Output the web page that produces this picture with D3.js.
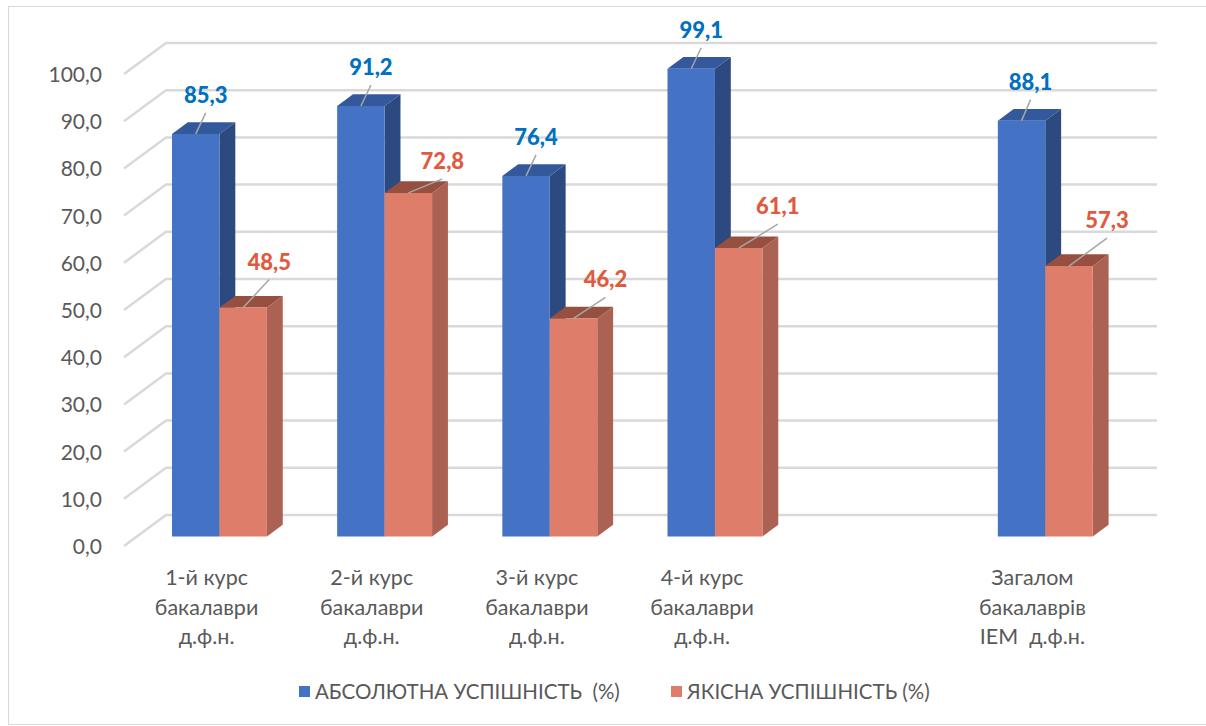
<!DOCTYPE html>
<html>
<head>
<meta charset="utf-8">
<script src="https://cdn.jsdelivr.net/npm/d3@7/dist/d3.min.js"></script>
<style>
  html, body { margin: 0; padding: 0; background: #ffffff; }
  svg { display: block; }
  text { font-family: Lato, "Open Sans", sans-serif; white-space: pre; }
</style>
</head>
<body>
<svg id="chart" width="1206" height="726"></svg>
<script>
// ---------- data ----------
const categories = [
  ["1-й курс", "бакалаври", "д.ф.н."],
  ["2-й курс", "бакалаври", "д.ф.н."],
  ["3-й курс", "бакалаври", "д.ф.н."],
  ["4-й курс", "бакалаври", "д.ф.н."],
  ["", "", ""],
  ["Загалом", "бакалаврів", "IEM  д.ф.н."]
];
const seriesNames = ["АБСОЛЮТНА УСПІШНІСТЬ  (%)", "ЯКІСНА УСПІШНІСТЬ (%)"];
const absoluteValues = [85.3, 91.2, 76.4, 99.1, null, 88.1];
const qualityValues  = [48.5, 72.8, 46.2, 61.1, null, 57.3];
const yTicks = [0, 10, 20, 30, 40, 50, 60, 70, 80, 90, 100];

// ---------- layout (not data) ----------
const plotLeft = 124, plotRight = 1115;
const yFront0 = 546, yFront100 = 74;
const depthY = 31;              // total depth of the 3D box (vertical px)
const kx = 42 / 31;             // x-shift per unit of vertical depth shift
const barDepthStart = 9.5, barDepthLen = 11.7;
const gapWidth = 0.74;
// manual label nudges (px, relative to top-front centre of bar)
const labelNudges = [
  [[10,-39],[10,-39],[10,-39],[10,-39],null,[9,-39]],
  [[26,-46],[34,-32],[32,-39],[39,-42],null,[38,-46]]
];

const colors = {
  front: ["#4472C4", "#DF7D6B"],
  side:  ["#2C4A7F", "#AC6253"],
  top:   ["#34589C", "#97503F"],
  label: ["#0070C0", "#DF5A3E"]
};

const svg = d3.select("#chart");

// chart border
svg.append("rect")
  .attr("x", 8.5).attr("y", 6.5).attr("width", 1220).attr("height", 718)
  .attr("fill", "#fff").attr("stroke", "#D9D9D9").attr("stroke-width", 1);

// scales
const x = d3.scaleBand().domain(d3.range(categories.length)).range([plotLeft, plotRight]).padding(0);
const y = d3.scaleLinear().domain([0, 100]).range([yFront0, yFront100]);
const groupW = x.bandwidth() / (1 + gapWidth);
const xs = d3.scaleBand().domain([0, 1]).range([0, groupW]).padding(0);

const proj = (px, py, d) => [px + d * kx, py - d];

// gridlines on side + back wall
const grid = svg.append("g");
yTicks.forEach(t => {
  const p0 = [plotLeft, y(t)];
  const p1 = proj(plotLeft, y(t), depthY);
  const p2 = proj(plotRight, y(t), depthY);
  grid.append("path")
    .attr("d", d3.line()([p0, p1, p2]))
    .attr("fill", "none")
    .attr("stroke", "#D9D9D9")
    .attr("stroke-width", 2.5)
    .attr("stroke-linejoin", "round");
});

// y axis labels
const loc = d3.formatLocale({decimal: ",", thousands: " ", grouping: [3], currency: ["", ""]});
const fmt = loc.format(".1f");
const yAxis = d3.axisLeft(y).tickValues(yTicks).tickFormat(fmt).tickSize(0).tickPadding(22);
const ax = svg.append("g").attr("transform", `translate(${plotLeft},0)`).call(yAxis);
ax.select(".domain").remove();
ax.selectAll("text")
  .attr("fill", "#595959")
  .style("font-family", "Lato, sans-serif")
  .style("font-size", "21px")
  .attr("dy", "0.36em");

// bars
const seriesVals = [absoluteValues, qualityValues];
const bars = svg.append("g");
categories.forEach((c, i) => {
  seriesVals.forEach((vals, s) => {
    const v = vals[i];
    if (v == null) return;
    const gx = x(i) + (x.bandwidth() - groupW) / 2;
    const fx0 = gx + xs(s), fx1 = fx0 + xs.bandwidth();
    const yb = y(0), yt = y(v);
    const d0 = barDepthStart, d1 = barDepthStart + barDepthLen;
    const A = proj(fx0, yt, d0), B = proj(fx1, yt, d0), C = proj(fx1, yb, d0), D = proj(fx0, yb, d0);
    const B2 = proj(fx1, yt, d1), C2 = proj(fx1, yb, d1), A2 = proj(fx0, yt, d1);
    const g = bars.append("g");
    g.append("path").attr("d", d3.line()([B, B2, C2, C]) + "Z").attr("fill", colors.side[s]);
    g.append("path").attr("d", d3.line()([A, A2, B2, B]) + "Z").attr("fill", colors.top[s]);
    g.append("path").attr("d", d3.line()([A, B, C, D]) + "Z").attr("fill", colors.front[s]);
  });
});

// data labels + leader lines
const labels = svg.append("g");
categories.forEach((c, i) => {
  seriesVals.forEach((vals, s) => {
    const v = vals[i];
    if (v == null) return;
    const gx = x(i) + (x.bandwidth() - groupW) / 2;
    const fx0 = gx + xs(s);
    const [cx, ct] = proj(fx0 + xs.bandwidth() / 2, y(v), barDepthStart);
    const nd = labelNudges[s][i];
    const lx = cx + nd[0], ly = ct + nd[1];
    labels.append("line")
      .attr("x1", cx).attr("y1", ct).attr("x2", lx).attr("y2", ly + 18)
      .attr("stroke", "#A6A6A6").attr("stroke-width", 1.5);
    labels.append("text")
      .attr("x", lx).attr("y", ly + 8)
      .attr("text-anchor", "middle")
      .attr("fill", colors.label[s])
      .style("font-weight", "900")
      .style("font-size", "22px")
      .text(fmt(v));
  });
});

// category labels
const catG = svg.append("g");
categories.forEach((lines, i) => {
  const t = catG.append("text")
    .attr("text-anchor", "middle")
    .attr("fill", "#595959")
    .style("font-size", "21.5px");
  lines.forEach((ln, k) => {
    t.append("tspan").attr("x", x(i) + x.bandwidth() / 2).attr("y", 585 + k * 29.5).text(ln);
  });
});

// legend
const legend = svg.append("g");
const legendX = [299, 671];
seriesNames.forEach((name, s) => {
  legend.append("rect").attr("x", legendX[s]).attr("y", 686).attr("width", 11).attr("height", 11).attr("fill", colors.front[s]);
  legend.append("text").attr("x", legendX[s] + 16).attr("y", 699)
    .attr("fill", "#595959").style("font-size", "20.5px").text(name);
});
</script>
</body>
</html>
